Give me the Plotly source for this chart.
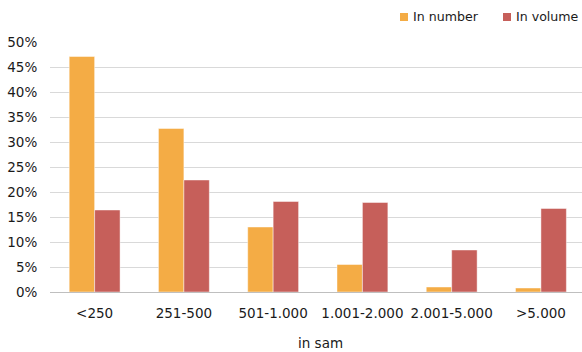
import plotly.graph_objects as go

categories = ["<250", "251-500", "501-1.000", "1.001-2.000", "2.001-5.000", ">5.000"]
in_number = [0.471, 0.327, 0.130, 0.055, 0.010, 0.008]
in_volume = [0.164, 0.224, 0.181, 0.179, 0.084, 0.167]
y_ticks = [0, 0.05, 0.10, 0.15, 0.20, 0.25, 0.30, 0.35, 0.40, 0.45, 0.50]
series_names = ["In number", "In volume"]
series_colors = ["#F4AC45", "#C65F5A"]

font = dict(family="DejaVu Sans", size=13.5, color="#1a1a1a")

fig = go.Figure()
for name, vals, col in zip(series_names, [in_number, in_volume], series_colors):
    fig.add_trace(go.Bar(name=name, x=categories, y=vals, showlegend=False,
                         marker=dict(color=col, line=dict(color="rgba(255,255,255,0.45)", width=1))))

W, H = 582, 352
L, R, T, B = 50, 0, 42, 60
pw, ph = W - L - R, H - T - B

def px_to_paper(x, y):
    return (x - L) / pw, (H - B - y) / ph

# manual legend
legend_pos = [(400, 411), (503, 514)]
for (sx, tx), name, col in zip(legend_pos, series_names, series_colors):
    x0, y0 = px_to_paper(sx, 13)
    x1, y1 = px_to_paper(sx + 8, 21)
    fig.add_shape(type="rect", xref="paper", yref="paper", x0=x0, x1=x1, y0=y1, y1=y0,
                  fillcolor=col, line=dict(width=0))
    ax, ay = px_to_paper(tx, 17)
    fig.add_annotation(text=name, xref="paper", yref="paper", x=ax, y=ay,
                       xanchor="left", yanchor="middle", showarrow=False,
                       font=dict(family="DejaVu Sans", size=12.6, color="#1a1a1a"))

tx, ty = px_to_paper(320, 343)
fig.add_annotation(text="in sam", xref="paper", yref="paper", x=tx, y=ty,
                   xanchor="center", yanchor="middle", showarrow=False, font=font)

fig.update_layout(
    width=W, height=H,
    margin=dict(l=L, r=R, t=T, b=B),
    paper_bgcolor="white", plot_bgcolor="white",
    barmode="group", bargap=0.43, bargroupgap=0,
    font=font,
    hovermode=False,
    xaxis=dict(range=[-0.5, 5.46], showgrid=False, showline=False, zeroline=False,
               ticks="outside", ticklen=9, tickcolor="rgba(0,0,0,0)", automargin=False),
    yaxis=dict(range=[0, 0.5], tickvals=y_ticks, tickformat=".0%",
               showgrid=True, gridcolor="#D9D9D9", gridwidth=1,
               zeroline=True, zerolinecolor="#BFBFBF", zerolinewidth=1,
               showline=False, ticks="outside", ticklen=9, tickcolor="rgba(0,0,0,0)",
               automargin=False),
)

fig.write_html("out.html", config={"displayModeBar": False},
               post_script="document.body.style.margin='0';")
